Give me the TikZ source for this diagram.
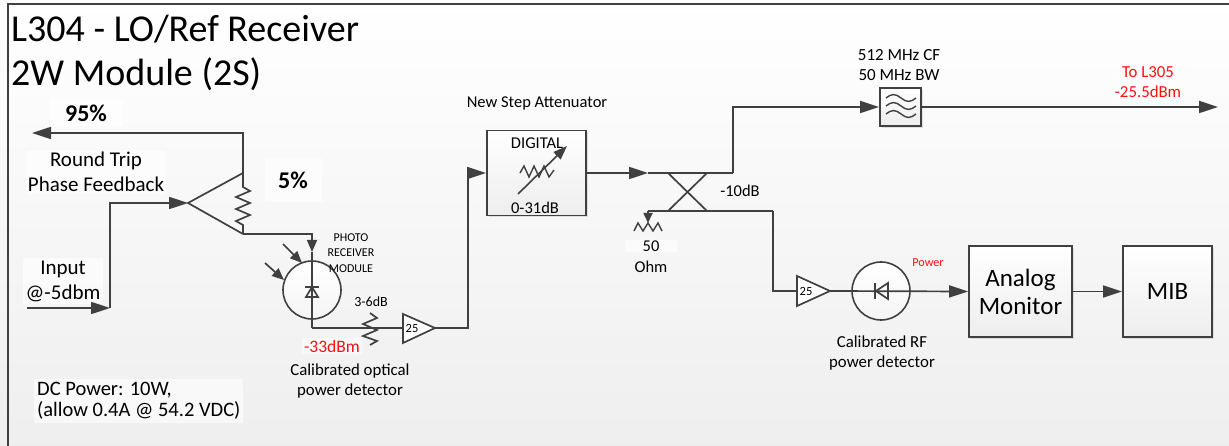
\documentclass[tikz,border=0pt]{standalone}
\usepackage{fontspec}
\setmainfont{Carlito}
\usetikzlibrary{arrows.meta,shadows}
\definecolor{ln}{HTML}{404040}
\definecolor{rd}{HTML}{FF1010}
\begin{document}
\begin{tikzpicture}[x=1pt,y=-1pt,
  wire/.style={draw=ln,line width=1.7pt},
  arr/.style={wire,-{Triangle[length=19pt,width=12pt]}},
  sarr/.style={wire,-{Triangle[length=12pt,width=10pt]}},
  tarr/.style={wire,-{Triangle[length=10pt,width=9pt]}},
  blk/.style={draw=ln,line width=1.8pt,top color=white,bottom color=gray!14,
    drop shadow={shadow xshift=2pt,shadow yshift=-2pt,fill=gray!60,opacity=.35}},
  bg/.style={fill=white,fill opacity=.6,text opacity=1},
  ]
\useasboundingbox (0,0) rectangle (1229,446);
\shade[top color=white,bottom color=gray!13] (0,0) rectangle (1229,446);
\draw[ln,line width=2pt] (8,446) -- (8,4) -- (1229,4);

% title
\node[anchor=base west,inner sep=0pt,font=\fontsize{38}{44}\selectfont] (t1) at (11,42) {L304 - LO/Ref Receiver};
\node[anchor=base west,inner sep=0pt,font=\fontsize{38}{44}\selectfont] (t2) at (11,86) {2W Module (2S)};

% splitter
\coordinate (spin) at (188,203);
\coordinate (sptop) at (243,173);
\coordinate (spbot) at (243,234);
\draw[wire,line join=miter] (sptop) -- (spin) -- (spbot);
\draw[wire] (sptop) -- (243,187) -- (250,191) -- (236,197) -- (250,203) -- (236,209) -- (250,215) -- (236,221) -- (243,225) -- (spbot);

% labels left
\node[bg,minimum width=73pt,minimum height=27pt,font=\bfseries\fontsize{24}{28}\selectfont] (l95) at (86,113) {95\%};
\node[bg,align=center,font=\fontsize{21}{25}\selectfont,inner sep=2pt] (lrt) at (96,172) {Round Trip\\Phase Feedback};
\node[bg,align=center,font=\fontsize{21}{25}\selectfont,inner sep=3pt] (lin) at (63,281) {Input\\@-5dbm};
\node[bg,minimum width=57pt,minimum height=44pt,font=\bfseries\fontsize{24}{28}\selectfont] (l5) at (293,180) {5\%};

\coordinate (fbout) at (32,133);
\draw[arr] (sptop) |- (fbout);
\coordinate (inp) at (27,308);
\coordinate (inc) at (110,308);
\draw[arr] (inp) -- (inc);
\draw[arr] (inc) |- (spin);

% photo receiver
\node[draw=ln,line width=1.6pt,circle,minimum size=58pt,inner sep=0pt,top color=white,bottom color=gray!8] (pd) at (312,290) {};
\coordinate (pdin) at (312,252);
\coordinate (pdout) at (312,328);
\draw[sarr] (spbot) -| (pdin);
\draw[wire] (pdin) -- (pdout);
\draw[wire,line join=miter] (312,287) -- (318,297) -- (306,297) -- cycle;
\draw[wire] (305,287) -- (319,287);
\draw[sarr] (283,244) -- (302,263);
\draw[sarr] (265,263) -- (284,280);
\node[align=center,font=\fontsize{12}{15.5}\selectfont] (lpr) at (351,253) {PHOTO\\RECEIVER\\MODULE};

% amp 1
\coordinate (a1in) at (403,328);
\coordinate (a1out) at (435,328);
\draw[wire] (pdout) -- (a1in);
\draw[wire] (370,313) -- (377,318) -- (363,324) -- (377,330) -- (363,336) -- (377,341) -- (370,345);
\draw[wire,fill=white,line join=miter] (403,314) -- (a1out) -- (403,343) -- cycle;
\node[font=\fontsize{12.5}{14}\selectfont,inner sep=0pt] (g1) at (412,328) {25};
\node[font=\fontsize{14}{16}\selectfont] (l36) at (371,302) {3-6dB};
\node[bg,text=rd,font=\fontsize{17.5}{20}\selectfont,inner sep=2pt] (l33) at (332,346) {-33dBm};
\node[align=center,font=\fontsize{16.8}{19.5}\selectfont] (lcal) at (350,381) {Calibrated optical\\power detector};

\node[bg,anchor=west,align=left,font=\fontsize{20.5}{21.5}\selectfont,inner sep=3pt] (ldc) at (34,401) {DC Power: 10W,\\(allow 0.4A @ 54.2 VDC)};

% attenuator
\node[blk,minimum width=99pt,minimum height=85pt] (att) at (536.5,173) {};
\node[font=\fontsize{16.5}{19}\selectfont] (ldig) at (537,143) {DIGITAL};
\node[font=\fontsize{16.5}{19}\selectfont] (l031) at (535,208) {0-31dB};
\node[font=\fontsize{16.5}{19}\selectfont] (lnsa) at (537,103) {New Step Attenuator};
\draw[ln,line width=1.4pt] (520,173) -- (524,166) -- (529,177) -- (534,166) -- (539,177) -- (544,166) -- (549,177) -- (554,170);
\draw[ln,line width=1.6pt,-{Triangle[length=14pt,width=10pt]}] (518,194) -- (567,146);
\coordinate (a1c) at (468,328);
\draw[arr] (a1out) -- (a1c) |- (att.west);

% coupler
\coordinate (cpin) at (648,173);
\coordinate (cptop) at (733,173);
\coordinate (cpbl) at (648,211);
\coordinate (cpbr) at (773,211);
\draw[arr] (att.east) -- (cpin);
\draw[wire] (cpin) -- (cptop);
\draw[wire] (cpbl) -- (cpbr);
\draw[wire] (668,173) -- (707,211) (707,173) -- (668,211);
\node[font=\fontsize{16.5}{19}\selectfont] (l10) at (740,191) {-10dB};
\coordinate (rterm) at (648,223);
\draw[tarr] (cpbl) -- (rterm);
\draw[ln,line width=1.4pt] (634,231) -- (638,223) -- (643,231) -- (648,223) -- (653,231) -- (658,223) -- (662,231);
\node[bg,minimum width=52pt,font=\fontsize{16.5}{19}\selectfont,inner sep=1pt] (l50) at (651,246) {50};
\node[font=\fontsize{16.5}{19}\selectfont] (lohm) at (651,267) {Ohm};

% filter
\node[blk,minimum width=41pt,minimum height=38pt] (filt) at (900.5,107) {};
\foreach \yy in {98,106,114}
  \draw[ln,line width=1.4pt] (886,\yy) sin (893.5,\yy-3.5) cos (901,\yy) sin (908.5,\yy+3.5) cos (916,\yy);
\draw[arr] (cptop) |- (filt.west);
\coordinate (out) at (1218,107);
\draw[arr] (filt.east) -- (out);
\node[align=center,font=\fontsize{17}{20}\selectfont] (lcf) at (899,65) {512 MHz CF\\50 MHz BW};
\node[bg,align=center,text=rd,font=\fontsize{16.8}{20.5}\selectfont,inner sep=2pt] (lto) at (1148,82) {To L305\\-25.5dBm};

% RF detector chain
\coordinate (a2in) at (797,291);
\coordinate (a2out) at (830,291);
\draw[wire] (cpbr) |- (a2in);
\draw[wire,fill=white,line join=miter] (797,276) -- (a2out) -- (797,306) -- cycle;
\node[font=\fontsize{12.5}{14}\selectfont,inner sep=0pt] (g2) at (806,291) {25};
\node[draw=ln,line width=1.6pt,circle,minimum size=58pt,inner sep=0pt,top color=white,bottom color=gray!8] (rfd) at (881,291) {};
\node[blk,minimum width=103pt,minimum height=91pt,align=center,font=\fontsize{25}{28}\selectfont] (am) at (1020.5,291.5) {Analog\\Monitor};
\node[blk,minimum width=89pt,minimum height=91pt,font=\fontsize{25}{28}\selectfont] (mib) at (1167.5,291.5) {MIB};
\draw[arr] (a2out) -- (am.west);
\draw[wire,line join=miter] (876,291) -- (888,283) -- (888,299) -- cycle;
\draw[wire] (875,283) -- (875,299);
\draw[arr] (am.east) -- (mib.west);
\node[text=rd,font=\fontsize{12.2}{14}\selectfont] (lpow) at (928,263) {Power};
\node[align=center,font=\fontsize{16.8}{20}\selectfont] (lrf) at (882,353) {Calibrated RF\\power detector};
\end{tikzpicture}
\end{document}
